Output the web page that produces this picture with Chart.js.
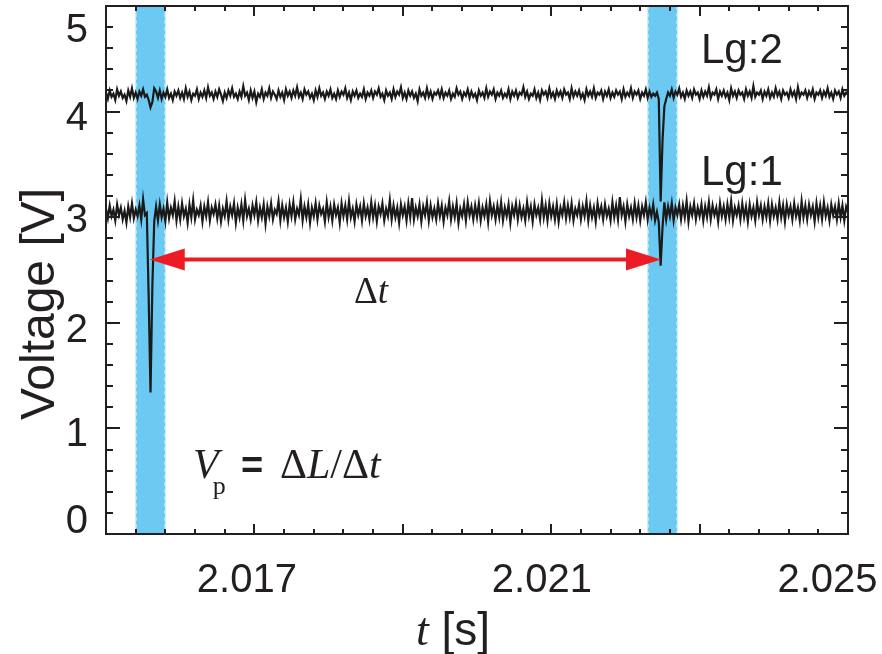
<!DOCTYPE html>
<html>
<head>
<meta charset="utf-8">
<script src="https://cdn.jsdelivr.net/npm/chart.js@4"></script>
<style>
html,body{margin:0;padding:0;background:#fff;}
#wrap{width:882px;height:654px;}
</style>
</head>
<body>
<div id="wrap"><canvas id="c" width="882" height="654"></canvas></div>
<script>
// ---- data ----
const T_START = 2.015;        // first sample time [s]
const T_STEP = 0.000025;      // sampling interval [s]
const X_MIN = 2.015, X_MAX = 2.025;
const Y_MIN = 0, Y_MAX = 5;
const xTickLabels = [2.017, 2.021, 2.025];
const yTickLabels = [0, 1, 2, 3, 4, 5];
const bandStart = [2.0154, 2.0223];
const bandEnd = [2.0158, 2.0227];
const arrowT = [2.01559, 2.02248];
const arrowV = 2.6;
const seriesNames = ['Lg:2', 'Lg:1'];

const lg2 = [
4.18,4.12,4.20,4.14,4.17,4.11,4.21,4.15,4.19,4.13,4.16,4.10,4.20,4.14,4.22,4.13,4.18,4.12,4.19,4.15,
4.21,4.14,4.16,4.11,4.04,4.09,4.22,4.19,4.13,4.20,4.12,4.18,4.14,4.21,4.13,4.17,4.11,4.19,4.15,4.20,
4.13,4.18,4.12,4.22,4.14,4.19,4.11,4.17,4.15,4.21,4.12,4.18,4.14,4.20,4.13,4.23,4.15,4.18,4.12,4.19,
4.14,4.21,4.16,4.10,4.18,4.13,4.20,4.15,4.22,4.14,4.17,4.12,4.19,4.14,4.24,4.15,4.18,4.11,4.20,4.13,
4.19,4.09,4.17,4.14,4.21,4.12,4.18,4.15,4.22,4.13,4.19,4.16,4.12,4.20,4.14,4.18,4.11,4.21,4.15,4.19,
4.13,4.20,4.15,4.23,4.14,4.18,4.12,4.21,4.16,4.19,4.13,4.17,4.11,4.20,4.14,4.22,4.15,4.18,4.12,4.19,
4.15,4.21,4.13,4.17,4.12,4.20,4.14,4.19,4.16,4.22,4.13,4.18,4.11,4.19,4.15,4.20,4.13,4.17,4.14,4.21,
4.12,4.18,4.15,4.20,4.13,4.19,4.16,4.22,4.14,4.17,4.11,4.20,4.15,4.18,4.12,4.21,4.14,4.19,4.16,4.23,
4.13,4.18,4.12,4.20,4.15,4.19,4.13,4.17,4.10,4.21,4.15,4.18,4.13,4.22,4.14,4.19,4.12,4.18,4.16,4.20,
4.14,4.21,4.13,4.18,4.15,4.20,4.12,4.17,4.14,4.22,4.16,4.19,4.12,4.18,4.15,4.21,4.13,4.19,4.14,4.17,
4.11,4.20,4.15,4.18,4.13,4.22,4.14,4.19,4.16,4.21,4.12,4.18,4.15,4.20,4.13,4.17,4.14,4.21,4.12,4.19,
4.15,4.20,4.13,4.18,4.16,4.23,4.14,4.19,4.12,4.17,4.15,4.21,4.13,4.18,4.11,4.20,4.16,4.19,4.13,4.22,
4.14,4.18,4.12,4.20,4.15,4.19,4.13,4.21,4.16,4.18,4.12,4.22,4.14,4.19,4.15,4.20,4.13,4.17,4.11,4.21,
4.15,4.19,4.14,4.22,4.13,4.18,4.16,4.20,4.12,4.19,4.15,4.21,4.13,4.18,4.14,4.20,4.16,4.19,4.12,4.21,
4.14,4.18,4.15,4.22,4.13,4.19,4.16,4.20,4.12,4.18,4.15,4.21,4.13,4.19,4.14,4.17,4.15,4.18,4.12,3.15,
3.72,4.05,4.12,4.18,4.15,4.21,4.13,4.19,4.16,4.22,4.14,4.18,4.12,4.20,4.15,4.19,4.13,4.21,4.16,4.18,
4.12,4.20,4.14,4.19,4.15,4.23,4.13,4.18,4.16,4.21,4.12,4.19,4.15,4.20,4.14,4.18,4.11,4.22,4.15,4.19,
4.13,4.20,4.16,4.18,4.12,4.21,4.15,4.19,4.13,4.24,4.14,4.18,4.16,4.20,4.12,4.19,4.15,4.21,4.13,4.18,
4.14,4.22,4.15,4.19,4.12,4.20,4.16,4.18,4.13,4.21,4.15,4.19,4.12,4.23,4.14,4.18,4.16,4.20,4.13,4.19,
4.15,4.21,4.12,4.18,4.16,4.20,4.13,4.19,4.15,4.22,4.14,4.18,4.12,4.20,4.16,4.19,4.13,4.21,4.15,4.18,
4.16
];

const lg1 = [
3.08,2.99,3.11,3.01,3.07,2.97,3.12,3.02,3.09,2.98,3.06,2.95,3.10,3.00,3.13,2.99,3.07,3.01,3.11,2.98,
3.17,3.02,3.04,2.25,1.34,2.35,2.96,3.10,2.97,3.12,3.00,3.08,2.96,3.14,2.99,3.09,3.02,3.15,2.97,3.10,
2.98,3.13,3.01,3.08,2.95,3.12,3.00,3.16,2.98,3.07,3.02,3.11,2.96,3.10,3.01,3.14,2.97,3.09,3.03,3.12,
2.99,3.11,2.96,3.08,3.01,3.15,2.98,3.10,3.02,3.13,2.95,3.09,3.00,3.12,2.97,3.16,3.01,3.08,2.98,3.11,
3.02,3.14,2.97,3.09,3.00,3.12,2.94,3.10,3.01,3.13,2.98,3.07,3.03,3.15,2.97,3.11,3.00,3.09,2.96,3.12,
3.01,3.14,2.98,3.08,3.02,3.17,2.97,3.10,3.00,3.12,2.95,3.09,3.01,3.13,2.98,3.11,3.03,3.08,2.96,3.14,
3.00,3.10,2.97,3.12,3.02,3.09,2.95,3.13,3.01,3.11,2.98,3.15,3.00,3.08,2.96,3.12,3.02,3.10,2.97,3.13,
3.01,3.09,2.98,3.14,3.00,3.11,2.96,3.10,3.03,3.13,2.97,3.08,3.01,3.16,2.98,3.11,3.00,3.09,2.95,3.12,
3.02,3.10,2.97,3.13,3.00,3.18,2.98,3.09,3.01,3.12,2.96,3.10,3.02,3.14,2.97,3.11,3.00,3.08,2.98,3.13,
3.01,3.11,2.96,3.09,3.02,3.15,2.98,3.10,3.00,3.13,2.95,3.08,3.01,3.12,2.97,3.14,3.02,3.10,2.98,3.11,
3.00,3.13,2.97,3.09,3.01,3.12,2.96,3.15,3.02,3.10,2.98,3.11,3.00,3.14,2.97,3.09,3.01,3.12,2.95,3.10,
3.02,3.13,2.98,3.11,3.00,3.08,2.97,3.14,3.01,3.10,2.96,3.12,3.02,3.09,2.98,3.16,3.00,3.11,2.97,3.13,
3.01,3.10,2.98,3.12,2.96,3.09,3.02,3.14,2.99,3.11,3.00,3.13,2.97,3.08,3.02,3.12,2.98,3.10,3.01,3.15,
2.97,3.11,3.00,3.09,2.96,3.13,3.02,3.10,2.98,3.12,3.01,3.08,2.97,3.14,3.00,3.11,2.98,3.19,3.02,3.10,
2.96,3.12,3.01,3.09,2.98,3.13,3.00,3.11,2.97,3.10,3.02,3.14,2.98,3.09,3.01,3.12,2.97,3.05,2.95,2.54,
2.90,3.14,2.98,3.10,3.01,3.13,2.97,3.09,3.02,3.12,2.98,3.11,3.00,3.15,2.96,3.10,3.02,3.13,2.98,3.09,
3.01,3.12,2.97,3.10,3.00,3.14,2.98,3.11,3.02,3.09,2.96,3.13,3.01,3.10,2.98,3.12,3.00,3.15,2.97,3.09,
3.02,3.11,2.98,3.13,3.00,3.10,2.96,3.12,3.01,3.09,2.97,3.14,3.02,3.11,2.98,3.10,3.00,3.13,2.97,3.12,
3.01,3.09,2.98,3.14,3.00,3.11,2.96,3.12,3.02,3.10,2.98,3.13,3.01,3.09,2.97,3.15,3.00,3.11,2.98,3.12,
3.02,3.10,2.96,3.13,3.00,3.11,2.98,3.14,3.01,3.09,2.97,3.12,3.02,3.10,2.98,3.13,3.00,3.11,2.97,3.10,
3.05
];

// ---- build datasets ----
function toPoints(arr){ return arr.map((v,i)=>({x: T_START + i*T_STEP, y: v})); }

const SANS = '"Liberation Sans", Arial, Helvetica, sans-serif';
const SERIF = '"Liberation Serif", "Times New Roman", serif';

function drawRuns(ctx, x, y, runs){
  let cx = x;
  for (const r of runs){
    ctx.font = r.font;
    const yy = y + (r.dy || 0);
    ctx.fillText(r.text, cx + (r.dx||0), yy);
    cx += ctx.measureText(r.text).width + (r.dx||0);
  }
}

const deco = {
  id: 'deco',
  beforeDatasetsDraw(chart){
    const {ctx, chartArea: a, scales: {x}} = chart;
    ctx.save();
    for (let i=0;i<bandStart.length;i++){
      const x1 = x.getPixelForValue(bandStart[i]);
      const x2 = x.getPixelForValue(bandEnd[i]);
      ctx.fillStyle = '#6ccaf2';
      ctx.fillRect(x1, a.top, x2-x1, a.bottom-a.top);
      ctx.strokeStyle = '#c9ecfb';
      ctx.lineWidth = 1;
      ctx.setLineDash([4,3]);
      ctx.beginPath();
      ctx.moveTo(x1+0.5, a.top); ctx.lineTo(x1+0.5, a.bottom);
      ctx.moveTo(x2-0.5, a.top); ctx.lineTo(x2-0.5, a.bottom);
      ctx.stroke();
      ctx.setLineDash([]);
    }
    ctx.restore();
  },
  afterDatasetsDraw(chart){
    const {ctx, chartArea: a, scales: {x, y}} = chart;
    ctx.save();
    // arrow
    const ax1 = x.getPixelForValue(arrowT[0]);
    const ax2 = x.getPixelForValue(arrowT[1]);
    const ay = y.getPixelForValue(arrowV);
    const hl = 35, hw = 11;
    ctx.strokeStyle = '#ed1c24';
    ctx.fillStyle = '#ed1c24';
    ctx.lineWidth = 4;
    ctx.beginPath();
    ctx.moveTo(ax1+hl-2, ay); ctx.lineTo(ax2-hl+2, ay); ctx.stroke();
    ctx.beginPath();
    ctx.moveTo(ax1, ay); ctx.lineTo(ax1+hl, ay-hw); ctx.lineTo(ax1+hl, ay+hw); ctx.closePath(); ctx.fill();
    ctx.beginPath();
    ctx.moveTo(ax2, ay); ctx.lineTo(ax2-hl, ay-hw); ctx.lineTo(ax2-hl, ay+hw); ctx.closePath(); ctx.fill();

    // frame
    ctx.strokeStyle = '#231f20';
    ctx.lineWidth = 2;
    ctx.strokeRect(a.left, a.top, a.right-a.left, a.bottom-a.top);
    ctx.beginPath();
    for (let k=0;k<=25;k++){
      const px = Math.round(x.getPixelForValue(X_MIN + k*0.0004));
      const len = (k%5===0) ? 10 : 5;
      ctx.moveTo(px, a.bottom); ctx.lineTo(px, a.bottom-len);
      ctx.moveTo(px, a.top); ctx.lineTo(px, a.top+len);
    }
    for (let k=0;k<=25;k++){
      const py = Math.round(y.getPixelForValue(Y_MIN + k*0.2));
      const len = (k%5===0) ? 14 : 7;
      ctx.moveTo(a.left, py); ctx.lineTo(a.left+len, py);
      ctx.moveTo(a.right, py); ctx.lineTo(a.right-len, py);
    }
    ctx.stroke();

    // tick labels
    ctx.fillStyle = '#231f20';
    ctx.font = '40px ' + SANS;
    ctx.textBaseline = 'alphabetic';
    ctx.textAlign = 'center';
    const xNudge = [-7.5, -9.3, -20.5];
    xTickLabels.forEach((v,i)=>{
      ctx.fillText(v.toFixed(3), x.getPixelForValue(v) + xNudge[i], 592);
    });
    ctx.textAlign = 'right';
    const yNudge = [-0.7, 17.4, 19, 15, 18.3, 35.7];
    yTickLabels.forEach((v,i)=>{
      ctx.fillText(String(v), 88, y.getPixelForValue(v) + yNudge[i]);
    });

    // axis titles
    ctx.save();
    ctx.translate(54, 304);
    ctx.rotate(-Math.PI/2);
    ctx.textAlign = 'center';
    ctx.font = '48px ' + SANS;
    ctx.fillText('Voltage [V]', 0, 0);
    ctx.restore();

    ctx.textAlign = 'left';
    drawRuns(ctx, 416, 645, [
      {text: 't', font: 'italic 46px ' + SERIF},
      {text: ' [s]', font: '46px ' + SANS}
    ]);

    // series labels
    ctx.font = '42px ' + SANS;
    ctx.fillText(seriesNames[0], 701, 63);
    ctx.fillText(seriesNames[1], 701, 185);

    // delta t
    drawRuns(ctx, 354, 303, [
      {text: '\u0394', font: '37px ' + SERIF},
      {text: 't', font: 'italic 37px ' + SERIF}
    ]);

    // formula
    drawRuns(ctx, 193, 478, [
      {text: 'V', font: 'italic 42px ' + SERIF},
      {text: 'p', font: '26px ' + SERIF, dx: -6, dy: 16}
    ]);
    drawRuns(ctx, 241, 478, [
      {text: '=', font: 'bold 38px ' + SANS}
    ]);
    drawRuns(ctx, 280, 478, [
      {text: '\u0394', font: '42px ' + SERIF},
      {text: 'L', font: 'italic 42px ' + SERIF},
      {text: '/', font: '42px ' + SERIF},
      {text: '\u0394', font: '42px ' + SERIF},
      {text: 't', font: 'italic 42px ' + SERIF}
    ]);
    ctx.restore();
  }
};

new Chart(document.getElementById('c'), {
  type: 'line',
  data: {
    datasets: [
      {label: seriesNames[0], data: toPoints(lg2), borderColor: '#1a1a1a', borderWidth: 2.2, pointRadius: 0, tension: 0, fill: false},
      {label: seriesNames[1], data: toPoints(lg1), borderColor: '#1a1a1a', borderWidth: 2.2, pointRadius: 0, tension: 0, fill: false}
    ]
  },
  options: {
    responsive: false,
    animation: false,
    devicePixelRatio: 1,
    layout: {padding: {left: 106, top: 6, right: 34, bottom: 120}},
    plugins: {legend: {display: false}, tooltip: {enabled: false}},
    scales: {
      x: {type: 'linear', min: X_MIN, max: X_MAX, display: false},
      y: {type: 'linear', min: Y_MIN, max: Y_MAX, display: false}
    }
  },
  plugins: [deco]
});
</script>
</body>
</html>
